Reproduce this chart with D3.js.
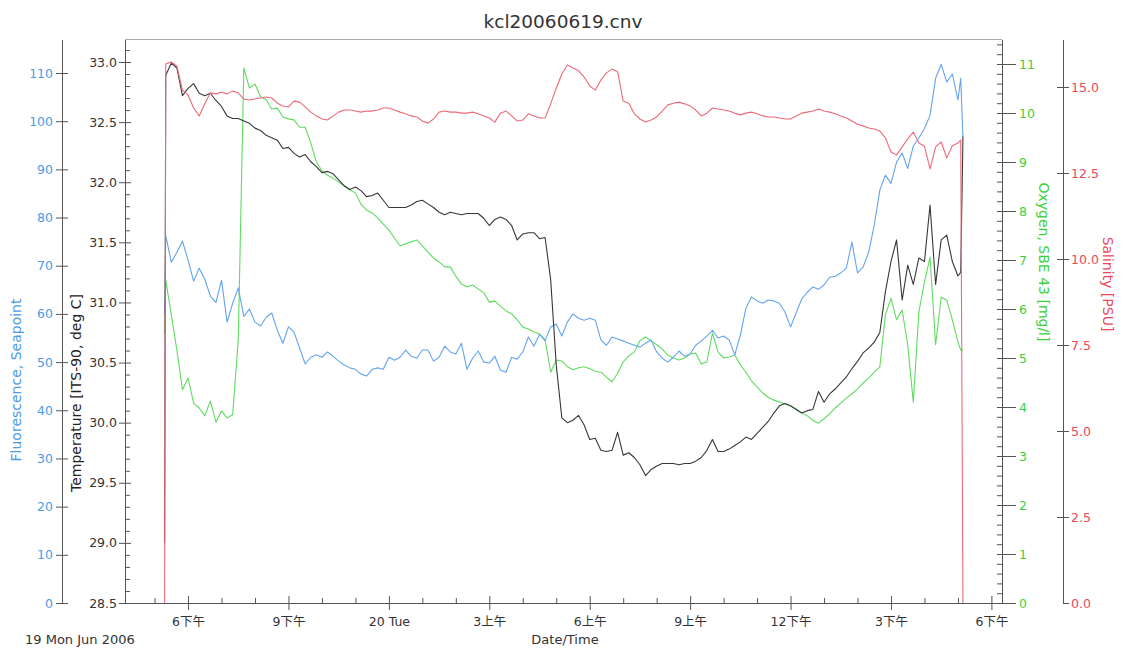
<!DOCTYPE html>
<html>
<head>
<meta charset="utf-8">
<script src="https://cdn.jsdelivr.net/npm/d3@7"></script>
<style>
  body { margin: 0; background: #fff; }
  svg { display: block; }
</style>
</head>
<body>
<svg id="chart" width="1123" height="649"></svg>
<script>
// CTD cast kcl20060619.cnv : four sensors sampled on a common scan clock.
const castStart = new Date(2006, 5, 19, 16, 0);           // minutes below are counted from here
const scanMinutes = [78, ...d3.range(80, 1501, 10), 1505, 1509];

const fluorescence = [60.0,
  76.3, 70.7, 72.8, 75.1, 71.2, 66.8, 69.5, 67.2, 63.7, 62.4,
  67.0, 58.3, 62.2, 65.4, 59.5, 61.0, 58.3, 57.5, 59.3, 60.2,
  56.6, 53.9, 57.3, 56.2, 52.9, 49.6, 51.0, 51.5, 51.0, 52.1,
  51.2, 50.2, 49.4, 48.8, 48.5, 47.5, 47.1, 48.5, 48.8, 48.5,
  51.0, 50.4, 51.0, 52.5, 51.2, 50.8, 52.5, 52.5, 50.2, 51.0,
  53.3, 52.1, 51.7, 53.9, 48.5, 50.8, 52.3, 50.0, 49.8, 51.2,
  48.3, 47.9, 51.0, 50.6, 52.1, 55.2, 53.3, 55.8, 54.4, 57.3,
  57.9, 55.4, 58.3, 60.0, 59.1, 58.7, 59.1, 58.7, 54.6, 53.5,
  55.2, 54.8, 54.4, 53.9, 53.5, 53.1, 53.9, 54.6, 52.1, 50.8,
  50.0, 51.0, 52.3, 51.2, 51.7, 53.5, 54.4, 55.4, 56.6, 55.0,
  55.4, 54.6, 51.5, 55.6, 61.2, 63.5, 62.7, 62.2, 62.9, 62.7,
  62.2, 60.4, 57.3, 60.2, 63.1, 64.5, 65.6, 65.1, 66.0, 67.6,
  67.8, 68.5, 69.5, 74.9, 68.5, 69.7, 72.8, 78.4, 85.7, 88.8,
  87.1, 91.5, 93.4, 90.2, 94.8, 96.5, 98.5, 101.2, 108.9, 111.8,
  108.1, 109.8, 104.4,
  108.9, 96.7];

const temperature = [29.00,
  32.89, 32.99, 32.95, 32.72, 32.78, 32.82, 32.74, 32.72, 32.74, 32.68,
  32.63, 32.55, 32.53, 32.53, 32.51, 32.49, 32.45, 32.43, 32.39, 32.37,
  32.35, 32.28, 32.29, 32.24, 32.21, 32.23, 32.17, 32.13, 32.08, 32.09,
  32.07, 32.02, 31.97, 31.94, 31.96, 31.93, 31.88, 31.89, 31.91, 31.85,
  31.79, 31.79, 31.79, 31.79, 31.81, 31.84, 31.85, 31.82, 31.79, 31.75,
  31.73, 31.75, 31.74, 31.73, 31.74, 31.74, 31.74, 31.70, 31.64, 31.69,
  31.71, 31.69, 31.64, 31.52, 31.57, 31.58, 31.58, 31.53, 31.54, 31.19,
  30.48, 30.04, 30.00, 30.02, 30.06, 29.98, 29.86, 29.87, 29.77, 29.76,
  29.77, 29.92, 29.73, 29.75, 29.71, 29.65, 29.56, 29.61, 29.64, 29.66,
  29.66, 29.66, 29.65, 29.66, 29.66, 29.68, 29.71, 29.77, 29.86, 29.76,
  29.76, 29.78, 29.81, 29.84, 29.88, 29.86, 29.91, 29.96, 30.01, 30.08,
  30.14, 30.16, 30.14, 30.11, 30.08, 30.10, 30.11, 30.26, 30.17, 30.24,
  30.28, 30.33, 30.38, 30.45, 30.51, 30.58, 30.62, 30.67, 30.75, 31.09,
  31.34, 31.52, 31.02, 31.31, 31.15, 31.37, 31.34, 31.81, 31.15, 31.52,
  31.56, 31.34, 31.22,
  31.25, 32.38];

const oxygen = [5.51,
  6.59, 5.88, 5.16, 4.35, 4.59, 4.08, 3.98, 3.82, 4.12, 3.69,
  3.92, 3.78, 3.84, 5.37, 10.92, 10.51, 10.59, 10.33, 10.27, 10.08,
  10.10, 9.92, 9.88, 9.86, 9.71, 9.71, 9.39, 9.00, 8.82, 8.73,
  8.67, 8.59, 8.51, 8.43, 8.37, 8.14, 8.02, 7.96, 7.86, 7.73,
  7.61, 7.45, 7.29, 7.33, 7.37, 7.41, 7.29, 7.16, 7.04, 6.96,
  6.86, 6.86, 6.67, 6.51, 6.45, 6.49, 6.41, 6.33, 6.14, 6.16,
  6.06, 5.96, 5.90, 5.78, 5.63, 5.59, 5.53, 5.49, 5.37, 4.71,
  4.96, 4.94, 4.82, 4.76, 4.80, 4.82, 4.78, 4.73, 4.71, 4.61,
  4.51, 4.69, 4.92, 5.04, 5.12, 5.35, 5.43, 5.35, 5.27, 5.18,
  5.06, 5.00, 4.96, 5.00, 5.08, 5.10, 4.88, 4.92, 5.51, 5.12,
  5.00, 5.02, 5.06, 4.86, 4.71, 4.53, 4.41, 4.29, 4.20, 4.14,
  4.10, 4.06, 4.02, 3.96, 3.88, 3.82, 3.73, 3.67, 3.76, 3.86,
  3.98, 4.08, 4.18, 4.27, 4.37, 4.49, 4.59, 4.71, 4.82, 5.88,
  6.22, 5.78, 5.98, 5.27, 4.10, 5.94, 6.55, 7.06, 5.27, 6.24,
  6.18, 5.78, 5.33,
  5.16, 5.16];

const salinity = [0.0,
  15.67, 15.73, 15.61, 14.91, 14.77, 14.39, 14.16, 14.51, 14.83, 14.80,
  14.85, 14.80, 14.88, 14.83, 14.65, 14.62, 14.65, 14.68, 14.71, 14.68,
  14.53, 14.45, 14.42, 14.59, 14.56, 14.42, 14.27, 14.16, 14.07, 14.04,
  14.16, 14.27, 14.33, 14.33, 14.30, 14.27, 14.30, 14.30, 14.33, 14.39,
  14.39, 14.33, 14.27, 14.22, 14.16, 14.13, 14.01, 13.95, 14.07, 14.27,
  14.30, 14.27, 14.27, 14.24, 14.24, 14.27, 14.22, 14.16, 14.10, 13.98,
  14.24, 14.30, 14.16, 14.01, 14.04, 14.22, 14.16, 14.10, 14.10, 14.51,
  14.97, 15.38, 15.64, 15.55, 15.47, 15.29, 15.03, 14.91, 15.20, 15.41,
  15.52, 15.44, 14.59, 14.53, 14.22, 14.07, 13.98, 14.04, 14.13, 14.30,
  14.48, 14.53, 14.56, 14.51, 14.45, 14.33, 14.16, 14.24, 14.39, 14.36,
  14.33, 14.30, 14.24, 14.19, 14.24, 14.27, 14.22, 14.16, 14.13, 14.13,
  14.10, 14.07, 14.07, 14.16, 14.24, 14.27, 14.30, 14.36, 14.30, 14.27,
  14.22, 14.16, 14.10, 14.01, 13.92, 13.87, 13.81, 13.78, 13.72, 13.52,
  13.11, 13.02, 13.26, 13.49, 13.69, 13.37, 13.28, 12.62, 13.26, 13.40,
  12.94, 13.29, 13.37,
  13.46, 0.0];

// Axis tick values and labels
const fluorTicks = [0, 10, 20, 30, 40, 50, 60, 70, 80, 90, 100, 110];
const tempTicks = [28.5, 29.0, 29.5, 30.0, 30.5, 31.0, 31.5, 32.0, 32.5, 33.0];
const oxygenTicks = [0, 1, 2, 3, 4, 5, 6, 7, 8, 9, 10, 11];
const salinityTicks = [0, 2.5, 5, 7.5, 10, 12.5, 15];
const timeTickHours = [18, 21, 24, 27, 30, 33, 36, 39, 42];   // hours after 19 Jun 00:00
const timeTickLabels = ["6下午", "9下午", "20 Tue", "3上午", "6上午", "9上午", "12下午", "3下午", "6下午"];

const FONT = '"DejaVu Sans", "Noto Sans CJK SC", sans-serif';
const COL = {
  fluor: "#63a4ee", fluorText: "#4d9be8",
  temp: "#383838", tempText: "#333",
  oxy: "#5fdc5f", oxyText: "#3ccf3c",
  sal: "#ec6a78", salText: "#e8485a",
  axis: "#555"
};

// Plot frame
const plotLeft = 125, plotRight = 1002, plotBottom = 603, plotTop = 39.5;

const hourDate = h => new Date(2006, 5, 19, 0, Math.round(h * 60));
const x = d3.scaleTime().domain([hourDate(16 + 7 / 60), hourDate(42 + 19 / 60)]).range([plotLeft, plotRight]);
const yF = d3.scaleLinear().domain([0, 110]).range([plotBottom, 73]);
const yT = d3.scaleLinear().domain([28.5, 33.0]).range([plotBottom, 62]);
const yO = d3.scaleLinear().domain([0, 11]).range([plotBottom, 64]);
const yS = d3.scaleLinear().domain([0, 15]).range([plotBottom, 87]);

const rows = scanMinutes.map((m, i) => ({
  t: new Date(castStart.getTime() + m * 60000),
  fluor: fluorescence[i], temp: temperature[i], oxy: oxygen[i], sal: salinity[i]
}));

const svg = d3.select("#chart");

function styleAxis(g, textColor) {
  g.select(".domain").remove();
  g.selectAll(".tick line").attr("stroke", COL.axis);
  g.selectAll(".tick text")
    .attr("fill", textColor)
    .style("font-family", FONT)
    .style("font-size", "12.5px");
}
function vline(xp, y1, y2, color) {
  svg.append("line").attr("x1", xp).attr("x2", xp).attr("y1", y1).attr("y2", y2)
    .attr("stroke", color).attr("stroke-width", 1).attr("shape-rendering", "crispEdges");
}

// top border of the plot
svg.append("line").attr("x1", plotLeft).attr("x2", plotRight).attr("y1", plotTop).attr("y2", plotTop)
  .attr("stroke", "#aaa").attr("shape-rendering", "crispEdges");

// Fluorescence axis (outer left)
const fx = 62;
vline(fx, plotTop, plotBottom, COL.axis);
styleAxis(svg.append("g").attr("transform", `translate(${fx},0)`)
  .call(d3.axisLeft(yF).tickValues(fluorTicks).tickSize(6).tickPadding(3).tickFormat(d3.format("d"))), COL.fluorText);
styleAxis(svg.append("g").attr("transform", `translate(${fx},0)`)
  .call(d3.axisRight(yF).tickValues(fluorTicks).tickSize(6).tickFormat("")), COL.fluorText);

// Temperature axis (plot left edge)
vline(plotLeft, plotTop, plotBottom, COL.axis);
const tempMinor = d3.range(286, 332).map(v => v / 10).filter(v => Math.round(v * 10) % 5 !== 0);
styleAxis(svg.append("g").attr("transform", `translate(${plotLeft},0)`)
  .call(d3.axisLeft(yT).tickValues(tempTicks).tickSize(6).tickPadding(2).tickFormat(d3.format(".1f"))), COL.tempText);
styleAxis(svg.append("g").attr("transform", `translate(${plotLeft},0)`)
  .call(d3.axisRight(yT).tickValues(tempTicks).tickSize(6).tickFormat("")), COL.tempText);
styleAxis(svg.append("g").attr("transform", `translate(${plotLeft},0)`)
  .call(d3.axisRight(yT).tickValues(tempMinor).tickSize(5).tickFormat("")), COL.tempText);

// Oxygen axis (plot right edge)
vline(plotRight, plotTop, plotBottom, COL.axis);
const oxyMinor = d3.range(0, 58).map(v => v / 5);
styleAxis(svg.append("g").attr("transform", `translate(${plotRight},0)`)
  .call(d3.axisRight(yO).tickValues(oxygenTicks).tickSize(14).tickPadding(3).tickFormat(d3.format("d"))), COL.oxyText);
styleAxis(svg.append("g").attr("transform", `translate(${plotRight},0)`)
  .call(d3.axisLeft(yO).tickValues(oxyMinor).tickSize(5).tickFormat("")), COL.oxyText);

// Salinity axis (outer right)
const sx = 1063;
vline(sx, plotTop, plotBottom, COL.axis);
styleAxis(svg.append("g").attr("transform", `translate(${sx},0)`)
  .call(d3.axisRight(yS).tickValues(salinityTicks).tickSize(6).tickPadding(2).tickFormat(d3.format(".1f"))), COL.salText);
styleAxis(svg.append("g").attr("transform", `translate(${sx},0)`)
  .call(d3.axisLeft(yS).tickValues(salinityTicks.slice(1)).tickSize(6).tickFormat("")), COL.salText);

// Time axis
svg.append("line").attr("x1", plotLeft).attr("x2", plotRight).attr("y1", plotBottom).attr("y2", plotBottom)
  .attr("stroke", COL.axis).attr("shape-rendering", "crispEdges");
const majorDates = timeTickHours.map(hourDate);
const minorDates = d3.range(17, 43).filter(h => !timeTickHours.includes(h)).map(hourDate);
styleAxis(svg.append("g").attr("transform", `translate(0,${plotBottom})`)
  .call(d3.axisBottom(x).tickValues(majorDates).tickSize(7).tickPadding(7)
    .tickFormat((d, i) => timeTickLabels[i])), COL.tempText);
styleAxis(svg.append("g").attr("transform", `translate(0,${plotBottom})`)
  .call(d3.axisTop(x).tickValues(majorDates).tickSize(7).tickFormat("")), COL.tempText);
styleAxis(svg.append("g").attr("transform", `translate(0,${plotBottom})`)
  .call(d3.axisTop(x).tickValues(minorDates).tickSize(5).tickFormat("")), COL.tempText);

// Data traces
const series = [
  { key: "oxy", y: yO, color: COL.oxy },
  { key: "fluor", y: yF, color: COL.fluor },
  { key: "temp", y: yT, color: COL.temp },
  { key: "sal", y: yS, color: COL.sal }
];
const plot = svg.append("g");
series.forEach(s => {
  plot.append("path")
    .datum(rows)
    .attr("fill", "none")
    .attr("stroke", s.color)
    .attr("stroke-width", 1.1)
    .attr("stroke-linejoin", "round")
    .attr("d", d3.line().x(d => x(d.t)).y(d => s.y(d[s.key])));
});

// Text
const txt = (xp, yp, str, opts = {}) => {
  const t = svg.append("text")
    .attr("x", xp).attr("y", yp).text(str)
    .style("font-family", FONT)
    .style("font-size", (opts.size || 13) + "px")
    .attr("fill", opts.color || "#333")
    .attr("text-anchor", opts.anchor || "middle");
  if (opts.rotate) t.attr("transform", `rotate(${opts.rotate},${xp},${yp})`);
  return t;
};
txt(563, 28, "kcl20060619.cnv", { size: 18.5 });
txt(565, 644, "Date/Time", { size: 13 });
txt(25, 644, "19 Mon Jun 2006", { size: 13, anchor: "start" });
txt(21, 380, "Fluorescence, Seapoint", { size: 14, color: COL.fluorText, rotate: -90 });
txt(81, 393, "Temperature [ITS-90, deg C]", { size: 14, color: "#222", rotate: -90 });
txt(1039, 262, "Oxygen, SBE 43 [mg/l]", { size: 14, color: COL.oxyText, rotate: 90 });
txt(1103, 284, "Salinity [PSU]", { size: 14, color: COL.salText, rotate: 90 });
</script>
</body>
</html>
